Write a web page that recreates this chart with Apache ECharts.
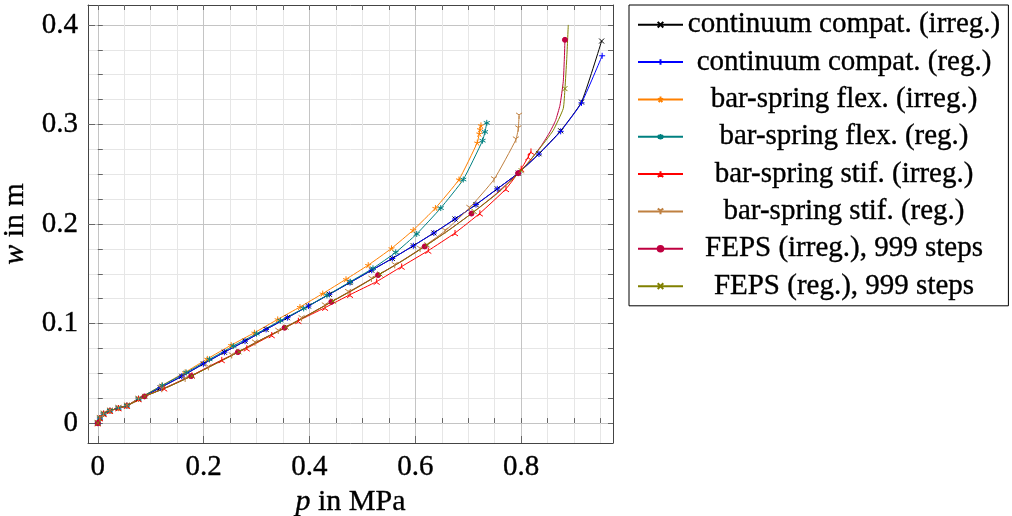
<!DOCTYPE html>
<html>
<head>
<meta charset="utf-8">
<script src="https://cdn.jsdelivr.net/npm/echarts@6/dist/echarts.min.js"></script>
<style>
html,body{margin:0;padding:0;background:#fff;}
#chart{width:1012px;height:516px;}
</style>
</head>
<body>
<div id="chart"></div>
<script>
// ---------- data (p in MPa, w in m) ----------
const seriesNames = [
  'continuum compat. (irreg.)',
  'continuum compat. (reg.)',
  'bar-spring flex. (irreg.)',
  'bar-spring flex. (reg.)',
  'bar-spring stif. (irreg.)',
  'bar-spring stif. (reg.)',
  'FEPS (irreg.), 999 steps',
  'FEPS (reg.), 999 steps'
];

const contIrreg = [[0,0],[0.004,0.005],[0.011,0.0094],[0.023,0.0124],[0.039,0.0151],[0.055,0.0175],[0.077,0.0243],
  [0.118,0.0355],[0.1587,0.047],[0.1995,0.0595],[0.2392,0.0712],[0.2782,0.0823],[0.318,0.0941],[0.3582,0.1059],
  [0.398,0.1176],[0.4375,0.1294],[0.4766,0.1412],[0.5176,0.1536],[0.5565,0.1654],[0.5962,0.1781],[0.635,0.191],
  [0.675,0.205],[0.7146,0.2195],[0.7548,0.2353],[0.7945,0.2511],[0.8336,0.2706],[0.8746,0.2936],[0.914,0.3225],[0.952,0.3838]];

const contReg = [[0,0],[0.004,0.005],[0.011,0.0094],[0.023,0.0124],[0.039,0.0151],[0.055,0.0175],[0.077,0.0243],
  [0.118,0.0355],[0.1587,0.047],[0.1995,0.0595],[0.2392,0.0712],[0.2782,0.0823],[0.318,0.0941],[0.3582,0.1059],
  [0.398,0.1176],[0.4375,0.1294],[0.4766,0.1412],[0.5176,0.1536],[0.5565,0.1654],[0.5962,0.1781],[0.635,0.191],
  [0.675,0.205],[0.7146,0.2195],[0.7548,0.2353],[0.7945,0.2511],[0.8336,0.2703],[0.8746,0.2931],[0.914,0.3217],[0.953,0.369]];

const flexIrreg = [[0,0],[0.004,0.005],[0.011,0.0094],[0.023,0.0124],[0.039,0.0151],[0.055,0.0175],[0.077,0.0245],
  [0.121,0.0378],[0.165,0.051],[0.207,0.0645],[0.252,0.0783],[0.296,0.0908],[0.34,0.1042],[0.382,0.1166],
  [0.425,0.1301],[0.469,0.1445],[0.511,0.1587],[0.555,0.1755],[0.596,0.1939],[0.638,0.216],[0.6825,0.2447],
  [0.717,0.2817],[0.7209,0.2908],[0.7222,0.2951],[0.724,0.2991]];

const flexReg = [[0,0],[0.004,0.005],[0.011,0.0094],[0.023,0.0124],[0.039,0.0151],[0.055,0.0175],[0.077,0.0245],
  [0.122,0.0378],[0.167,0.0508],[0.211,0.064],[0.256,0.0775],[0.3,0.0898],[0.345,0.103],[0.389,0.1152],
  [0.433,0.1283],[0.477,0.142],[0.52,0.1555],[0.563,0.1715],[0.6026,0.19],[0.648,0.216],[0.6906,0.2447],
  [0.727,0.2837],[0.7316,0.2925],[0.735,0.3016]];

const stifIrreg = [[0,0],[0.004,0.005],[0.011,0.0094],[0.023,0.0124],[0.039,0.0151],[0.055,0.0175],[0.077,0.0243],
  [0.1255,0.035],[0.178,0.048],[0.2343,0.0635],[0.2815,0.0752],[0.3287,0.0885],[0.379,0.1028],[0.4294,0.116],
  [0.4766,0.129],[0.527,0.1422],[0.5742,0.1573],[0.6245,0.1733],[0.675,0.191],[0.722,0.2108],[0.7713,0.2353],
  [0.8,0.2555],[0.8134,0.2673],[0.8185,0.2729]];

const stifReg = [[0,0],[0.004,0.005],[0.011,0.0094],[0.023,0.0124],[0.039,0.0151],[0.055,0.0175],[0.077,0.0243],
  [0.121,0.034],[0.165,0.0443],[0.209,0.056],[0.253,0.0679],[0.297,0.0807],[0.341,0.0925],[0.385,0.1052],
  [0.429,0.118],[0.473,0.1315],[0.517,0.1448],[0.561,0.1585],[0.609,0.1748],[0.656,0.193],[0.702,0.216],
  [0.7486,0.2447],[0.79,0.2847],[0.7945,0.2958],[0.796,0.3086]];

const fepsIrreg = [[0,0],[0.004,0.005],[0.011,0.0094],[0.023,0.0124],[0.039,0.0151],[0.055,0.0175],[0.069,0.021],
  [0.0883,0.0268],[0.1324,0.0363],[0.1765,0.0472],[0.2207,0.0593],[0.2648,0.0713],[0.3089,0.0838],[0.353,0.0958],
  [0.3972,0.1085],[0.4413,0.1218],[0.4854,0.1348],[0.5296,0.1487],[0.5737,0.1625],[0.6178,0.1775],[0.662,0.1935],
  [0.7061,0.2105],[0.7502,0.2292],[0.7943,0.2511],[0.8164,0.2635],[0.8385,0.279],[0.8544,0.2925],[0.865,0.304],
  [0.8733,0.3193],[0.8795,0.343],[0.8815,0.365],[0.8827,0.385]];
const fepsIrregMarked = [0,7,9,11,13,15,17,19,21,23,31];

const fepsReg = [[0,0],[0.004,0.005],[0.011,0.0094],[0.023,0.0124],[0.039,0.0151],[0.055,0.0175],[0.069,0.021],
  [0.0889,0.0269],[0.1333,0.0364],[0.1778,0.0474],[0.2222,0.0595],[0.2667,0.0716],[0.3111,0.0842],[0.3556,0.0963],
  [0.4,0.1092],[0.4445,0.1226],[0.4889,0.1357],[0.5334,0.1497],[0.5778,0.1637],[0.6223,0.179],[0.6667,0.195],
  [0.7112,0.2125],[0.7556,0.231],[0.8001,0.2535],[0.8323,0.274],[0.8606,0.2941],[0.8795,0.316],[0.8827,0.336],
  [0.886,0.365],[0.889,0.4]];
const fepsRegMarked = [0,7,9,11,13,15,17,19,21,23,27];

const xMajorTicks = [0, 0.2, 0.4, 0.6, 0.8];
const xMinorTicks = [0,0.05,0.1,0.15,0.2,0.25,0.3,0.35,0.4,0.45,0.5,0.55,0.6,0.65,0.7,0.75,0.8,0.85,0.9,0.95];
const yMajorTicks = [0, 0.1, 0.2, 0.3, 0.4];
const yMinorTicks = [0,0.025,0.05,0.075,0.1,0.125,0.15,0.175,0.2,0.225,0.25,0.275,0.3,0.325,0.35,0.375,0.4];

// ---------- styling ----------
const FONT = '"Liberation Serif", "Times New Roman", serif';
const FRAME = '#444';
const TICK = '#666';
const X_RANGE = {min: -0.0185, max: 0.9735};
const Y_RANGE = {min: -0.02, max: 0.42};
const THICK = {textBorderColor: '#000', textBorderWidth: 0.35};

const SYM = {
  cross: 'path://M0,0L10,10M10,0L0,10',
  plus: 'path://M5,0L5,10M0,5L10,5',
  star5: 'path://M5,5L5,0M5,5L9.755,3.455M5,5L7.939,9.045M5,5L2.061,9.045M5,5L0.245,3.455',
  aster: 'path://M5,0L5,10M0.67,2.5L9.33,7.5M0.67,7.5L9.33,2.5',
  merc: 'path://M5,5L5,0M5,5L0.67,7.5M5,5L9.33,7.5',
  mercFlip: 'path://M5,5L5,10M5,5L0.67,2.5M5,5L9.33,2.5'
};

function mk(name, pts, color, symbol, size, marked) {
  return {
    name: name,
    type: 'line',
    xAxisIndex: 1,
    yAxisIndex: 1,
    smooth: 0.15,
    symbol: symbol,
    symbolSize: size,
    showSymbol: true,
    lineStyle: {color: color, width: 1},
    itemStyle: {color: color, borderColor: color, borderWidth: 1},
    emphasis: {disabled: true},
    data: pts.map(function (p, i) {
      return (marked && marked.indexOf(i) < 0) ? {value: p, symbol: 'none'} : p;
    })
  };
}

const seriesList = [
  mk(seriesNames[0], contIrreg, '#000000', SYM.cross, 5),
  mk(seriesNames[1], contReg, '#0000ff', SYM.plus, 6),
  mk(seriesNames[2], flexIrreg, '#ff8000', SYM.star5, 6),
  mk(seriesNames[3], flexReg, '#008080', SYM.aster, 6),
  mk(seriesNames[4], stifIrreg, '#ff0000', SYM.merc, 6),
  mk(seriesNames[5], stifReg, '#bf8040', SYM.mercFlip, 6),
  mk(seriesNames[6], fepsIrreg, '#bf0040', 'circle', 5, fepsIrregMarked),
  mk(seriesNames[7], fepsReg, '#808000', SYM.cross, 5, fepsRegMarked)
];

const labelStyle = Object.assign({color: '#000', fontFamily: FONT, fontSize: 29}, THICK);
const nameRich = {i: Object.assign({fontStyle: 'italic', fontFamily: FONT, fontSize: 30, color: '#000'}, THICK),
                  n: Object.assign({fontFamily: FONT, fontSize: 30, color: '#000'}, THICK)};

const option = {
  animation: false,
  backgroundColor: '#fff',
  grid: {left: 88, top: 5, width: 525, height: 438, containLabel: false, outerBoundsMode: 'none'},
  legend: {
    data: seriesNames,
    orient: 'vertical',
    left: 629,
    top: 5,
    padding: [5, 8, 5, 8],
    borderColor: '#000',
    borderWidth: 1,
    itemWidth: 45,
    itemHeight: 7,
    itemGap: 8,
    selectedMode: false,
    formatter: function (n) { return '{c|' + n + '}'; },
    textStyle: {
      color: '#000', fontFamily: FONT, fontSize: 29,
      rich: {c: Object.assign({width: 312, align: 'center', color: '#000', fontFamily: FONT, fontSize: 29, lineHeight: 28}, THICK)}
    }
  },
  xAxis: [
    { // minor grid + minor ticks (bottom)
      type: 'value', min: X_RANGE.min, max: X_RANGE.max, position: 'bottom',
      axisLine: {show: false},
      axisLabel: {show: false},
      axisTick: {show: true, inside: true, length: 5, customValues: xMinorTicks, lineStyle: {color: TICK}},
      splitLine: {show: true, lineStyle: {color: '#e6e6e6', width: 1}}
    },
    { // major grid, labels, frame (bottom)
      type: 'value', min: X_RANGE.min, max: X_RANGE.max, position: 'bottom',
      axisLine: {show: true, onZero: false, lineStyle: {color: FRAME, width: 1}},
      axisTick: {show: true, inside: true, length: 7, customValues: xMajorTicks, lineStyle: {color: TICK}},
      axisLabel: Object.assign({customValues: xMajorTicks, margin: 10}, labelStyle),
      splitLine: {show: true, lineStyle: {color: '#c4c4c4', width: 1}},
      name: '{i|p}{n| in MPa}',
      nameLocation: 'middle',
      nameGap: 37,
      nameTextStyle: {color: '#000', fontFamily: FONT, fontSize: 30, rich: nameRich}
    },
    { // frame + ticks (top)
      type: 'value', min: X_RANGE.min, max: X_RANGE.max, position: 'top',
      axisLine: {show: true, onZero: false, lineStyle: {color: FRAME, width: 1}},
      axisTick: {show: true, inside: true, length: 5, customValues: xMinorTicks, lineStyle: {color: TICK}},
      axisLabel: {show: false},
      splitLine: {show: false}
    }
  ],
  yAxis: [
    {
      type: 'value', min: Y_RANGE.min, max: Y_RANGE.max, position: 'left',
      axisLine: {show: false},
      axisLabel: {show: false},
      axisTick: {show: true, inside: true, length: 5, customValues: yMinorTicks, lineStyle: {color: TICK}},
      splitLine: {show: true, lineStyle: {color: '#e6e6e6', width: 1}}
    },
    {
      type: 'value', min: Y_RANGE.min, max: Y_RANGE.max, position: 'left',
      axisLine: {show: true, onZero: false, lineStyle: {color: FRAME, width: 1}},
      axisTick: {show: true, inside: true, length: 7, customValues: yMajorTicks, lineStyle: {color: TICK}},
      axisLabel: Object.assign({customValues: yMajorTicks, margin: 10}, labelStyle),
      splitLine: {show: true, lineStyle: {color: '#c4c4c4', width: 1}},
      name: '{i|w}{n| in m}',
      nameLocation: 'middle',
      nameRotate: 90,
      nameGap: 53,
      nameTextStyle: {color: '#000', fontFamily: FONT, fontSize: 30, rich: nameRich}
    },
    {
      type: 'value', min: Y_RANGE.min, max: Y_RANGE.max, position: 'right',
      axisLine: {show: true, onZero: false, lineStyle: {color: FRAME, width: 1}},
      axisTick: {show: true, inside: true, length: 5, customValues: yMinorTicks, lineStyle: {color: TICK}},
      axisLabel: {show: false},
      splitLine: {show: false}
    }
  ],
  series: seriesList
};

const chart = echarts.init(document.getElementById('chart'), null, {renderer: 'canvas'});
chart.setOption(option);
</script>
</body>
</html>
